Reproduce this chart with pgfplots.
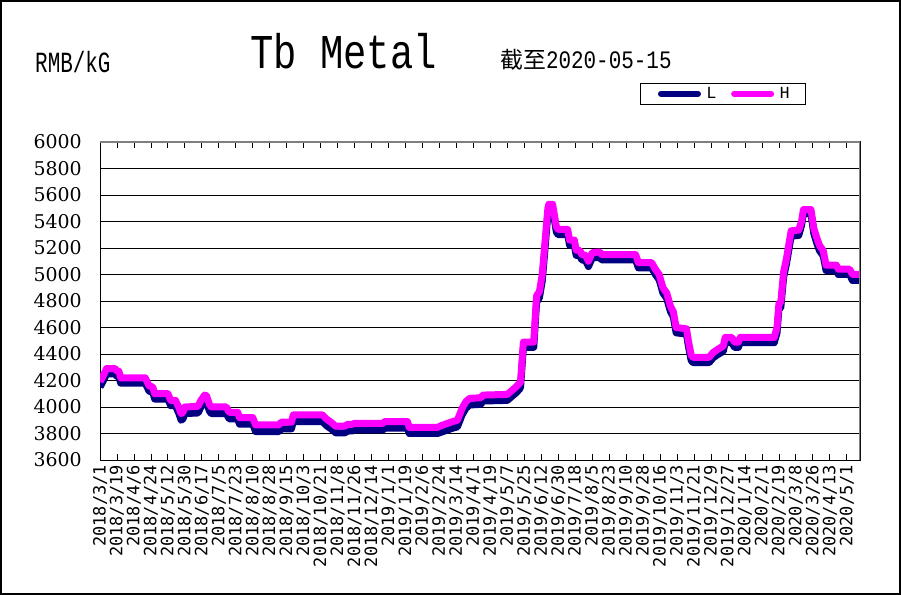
\documentclass[border=0pt]{standalone}
\usepackage{fontspec}
\usepackage{pgfplots}
\pgfplotsset{compat=1.18}
\newfontfamily\monof{Liberation Mono}
\newfontfamily\sansmono{DejaVu Sans Mono}
\newfontfamily\serifd{DejaVu Serif}
\newfontfamily\cjk{Noto Sans CJK SC}
\definecolor{lnavy}{RGB}{0,0,128}
\definecolor{hmag}{RGB}{255,0,255}
\definecolor{framegray}{RGB}{128,128,128}

\begin{document}
\begin{tikzpicture}
\useasboundingbox (0,0) rectangle (901bp,595bp);
\draw[black, line width=2bp] (1bp,1bp) rectangle (900bp,594bp);

\begin{axis}[
    at={(100bp,135bp)}, anchor=south west,
    scale only axis, width=760bp, height=318bp,
    xmin=0, xmax=806, ymin=3600, ymax=6000,
    xtick={0,18,...,792},
    xticklabels={2018/3/1,2018/3/19,2018/4/6,2018/4/24,2018/5/12,2018/5/30,2018/6/17,2018/7/5,2018/7/23,2018/8/10,2018/8/28,2018/9/15,2018/10/3,2018/10/21,2018/11/8,2018/11/26,2018/12/14,2019/1/1,2019/1/19,2019/2/6,2019/2/24,2019/3/14,2019/4/1,2019/4/19,2019/5/7,2019/5/25,2019/6/12,2019/6/30,2019/7/18,2019/8/5,2019/8/23,2019/9/10,2019/9/28,2019/10/16,2019/11/3,2019/11/21,2019/12/9,2019/12/27,2020/1/14,2020/2/1,2020/2/19,2020/3/8,2020/3/26,2020/4/13,2020/5/1},
    ytick={3600,3800,...,6000},
    /pgf/number format/1000 sep={},
    /pgf/number format/assume math mode=true,
    xticklabel style={font=\sansmono\fontsize{17}{17}\selectfont, rotate=90, anchor=east, inner xsep=5bp, inner ysep=0pt},
    yticklabel style={font=\serifd\fontsize{19}{19}\selectfont, anchor=east, inner sep=0pt, xshift=-18bp},
    tick align=inside, major tick length=6bp,
    xtick style={black, line width=0.8bp},
    ytick style={draw=none},
    ymajorgrids, major grid style={black, line width=0.8bp},
    axis line style={black, line width=1bp},
    legend columns=2,
    legend image code/.code={\draw[#1, line width=6bp, line cap=round] (3bp,0bp) -- (40bp,0bp); \path (0bp,-3bp) (43bp,3bp);},
    legend style={at={(0.7105,1.1855)}, anchor=north west, draw=black, line width=1bp,
        inner xsep=14bp, inner ysep=2.5bp,
        font=\monof\fontsize{17}{17}\selectfont,
        nodes={inner xsep=2bp, inner ysep=1.5bp},
        /tikz/every even column/.append style={column sep=9bp}},
]
\addplot[lnavy, line width=7bp, line join=round] coordinates {
(0,4150) (4,4205) (7,4250) (16,4250) (18,4230) (20,4230) (22,4180) (48,4180)
(52,4120) (56,4110) (58,4060) (72,4060) (75,4010) (80,4010) (84,3945) (86,3900)
(88,3910) (90,3950) (104,3955) (107,4000) (111,4040) (113,4035) (116,3970) (118,3950)
(134,3950) (137,3910) (146,3910) (148,3870) (162,3870) (165,3815) (190,3815) (192,3835)
(203,3835) (205,3890) (236,3890) (240,3860) (245,3835) (250,3805) (260,3805) (262,3818)
(268,3820) (270,3827) (300,3827) (302,3840) (326,3840) (328,3800) (358,3800) (362,3810)
(368,3825) (374,3840) (379,3850) (384,3940) (388,3990) (392,4015) (404,4020) (406,4045)
(432,4050) (436,4075) (441,4105) (445,4135) (446,4150) (449,4450) (460,4450) (463,4790)
(466,4825) (469,4950) (472,5200) (475,5460) (476,5500) (480,5500) (484,5320) (486,5300)
(496,5300) (498,5220) (503,5220) (505,5145) (509,5140) (511,5110) (515,5105) (518,5060)
(522,5125) (530,5130) (532,5110) (568,5110) (571,5050) (585,5050) (589,5000) (593,4960)
(597,4860) (601,4820) (605,4720) (608,4680) (611,4560) (622,4550) (624,4460) (627,4350)
(629,4335) (646,4335) (650,4370) (655,4395) (661,4420) (663,4485) (670,4485) (673,4450)
(677,4450) (679,4485) (715,4485) (718,4560) (720,4740) (722,4750) (725,4980) (728,5080)
(733,5290) (741,5295) (744,5370) (746,5460) (754,5460) (757,5310) (760,5240) (763,5180)
(767,5140) (770,5030) (781,5030) (783,5000) (795,5000) (798,4955) (806,4955)
};
\addlegendentry{L}
\addplot[hmag, line width=7bp, line join=round] coordinates {
(0,4190) (4,4245) (7,4290) (16,4290) (18,4270) (20,4270) (22,4220) (48,4220)
(52,4160) (56,4150) (58,4100) (72,4100) (75,4050) (80,4050) (84,3990) (86,3950)
(88,3960) (90,4000) (104,4005) (107,4050) (111,4090) (113,4085) (116,4020) (118,4000)
(134,4000) (137,3960) (146,3960) (148,3920) (162,3920) (165,3865) (190,3865) (192,3885)
(203,3885) (205,3940) (236,3940) (240,3910) (245,3885) (250,3855) (260,3855) (262,3868)
(268,3870) (270,3877) (300,3877) (302,3890) (326,3890) (328,3846) (358,3846) (362,3860)
(368,3875) (374,3890) (379,3900) (384,3990) (388,4040) (392,4065) (404,4070) (406,4090)
(432,4095) (436,4120) (441,4150) (445,4180) (446,4190) (449,4490) (460,4490) (463,4840)
(466,4870) (469,5000) (472,5250) (475,5500) (476,5530) (480,5530) (484,5360) (486,5340)
(496,5340) (498,5260) (503,5260) (505,5185) (509,5180) (511,5150) (515,5145) (518,5100)
(522,5165) (530,5170) (532,5150) (568,5150) (571,5090) (585,5090) (589,5040) (593,5000)
(597,4900) (601,4860) (605,4760) (608,4720) (611,4600) (622,4590) (624,4500) (627,4390)
(629,4375) (646,4375) (650,4410) (655,4435) (661,4460) (663,4525) (670,4525) (673,4490)
(677,4490) (679,4525) (715,4525) (718,4600) (720,4780) (722,4790) (725,5020) (728,5120)
(733,5330) (741,5335) (744,5400) (746,5490) (754,5490) (757,5350) (760,5280) (763,5220)
(767,5180) (770,5070) (781,5070) (783,5040) (795,5040) (798,5000) (806,5000)
};
\addlegendentry{H}
\draw[framegray, line width=2bp] (rel axis cs:0,1) -- (rel axis cs:1,1) -- (rel axis cs:1,0);
\end{axis}

\node[anchor=base west, inner sep=0pt] at (35bp,522bp)
    {\scalebox{1}[1.4]{\monof\fontsize{21}{21}\selectfont RMB/kG}};
\node[anchor=base west, inner sep=0pt] at (250bp,526bp)
    {\scalebox{1}[1.25]{\monof\fontsize{39}{39}\selectfont Tb Metal}};
\node[anchor=base west, inner sep=0pt] at (500bp,526.5bp)
    {{\cjk\fontsize{23}{23}\selectfont 截至}\scalebox{1}[1.2]{\monof\fontsize{21}{21}\selectfont 2020-05-15}};
\end{tikzpicture}
\end{document}
